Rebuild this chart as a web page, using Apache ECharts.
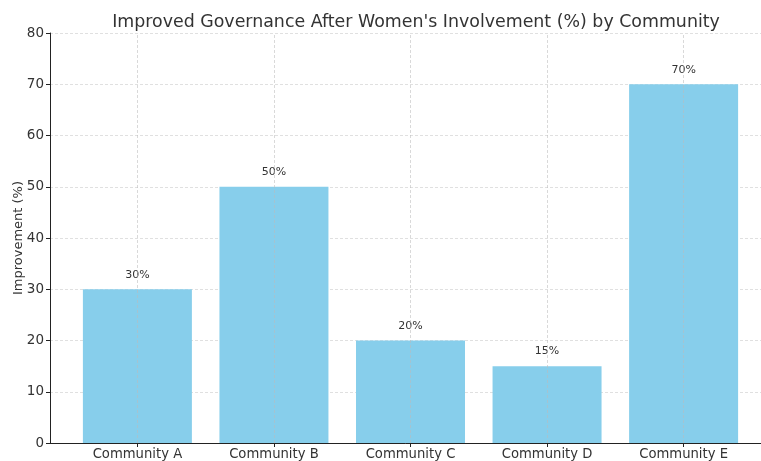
<!DOCTYPE html>
<html>
<head>
<meta charset="utf-8">
<script src="https://cdn.jsdelivr.net/npm/echarts@6/dist/echarts.min.js"></script>
<style>html,body{margin:0;padding:0;background:#fff}#c{width:761px;height:461px}</style>
</head>
<body>
<div id="c"></div>
<script>
const categories = ['Community A', 'Community B', 'Community C', 'Community D', 'Community E'];
const values = [30, 50, 20, 15, 70];
const yTicks = [0, 10, 20, 30, 40, 50, 60, 70, 80];
const titleText = "Improved Governance After Women's Involvement (%) by Community";
const yName = 'Improvement (%)';

const positions = categories.map((c, i) => i);
const font = 'DejaVu Sans';
const chart = echarts.init(document.getElementById('c'), null, {renderer: 'canvas'});
chart.setOption({
  animation: false,
  title: {
    text: titleText, left: 411, top: 9, textAlign: 'center',
    textStyle: {fontFamily: font, fontSize: 17.4, fontWeight: 'normal', color: '#333'}
  },
  grid: {left: 50, right: -10, top: 33, bottom: 18, containLabel: false, outerBoundsMode: 'none'},
  xAxis: {
    type: 'value', min: -0.64, max: 4.64,
    axisLine: {show: true, onZero: false, lineStyle: {color: '#222', width: 1}},
    axisTick: {show: true, customValues: positions, length: 4, lineStyle: {color: '#222'}},
    axisLabel: {customValues: positions, formatter: v => categories[Math.round(v)] || '',
      fontFamily: font, fontSize: 13.2, color: '#333', margin: 5},
    splitLine: {show: false}
  },
  yAxis: {
    type: 'value', min: yTicks[0], max: yTicks[yTicks.length - 1], interval: 10,
    name: yName, nameLocation: 'middle', nameGap: 25, nameMoveOverlap: false,
    nameTextStyle: {fontFamily: font, fontSize: 13, color: '#333'},
    axisLine: {show: true, onZero: false, lineStyle: {color: '#222', width: 1}},
    axisTick: {show: true, length: 4, lineStyle: {color: '#222'}},
    axisLabel: {fontFamily: font, fontSize: 13.5, color: '#333', margin: 6},
    splitLine: {show: true, lineStyle: {color: '#d8d8d8', type: [3, 2], width: 0.8}}
  },
  series: [{
    type: 'bar',
    data: values.map((v, i) => [positions[i], v]),
    barWidth: 109,
    itemStyle: {color: '#87CEEB'},
    label: {show: true, position: 'top', distance: 9, formatter: p => p.value[1] + '%',
      fontFamily: font, fontSize: 11, color: '#333'},
    markLine: {
      silent: true, symbol: 'none', label: {show: false}, z: 5,
      lineStyle: {color: '#bbb', type: [3, 2], width: 0.8, opacity: 0.7},
      data: positions.map(p => ({xAxis: p}))
    }
  }]
});
</script>
</body>
</html>
